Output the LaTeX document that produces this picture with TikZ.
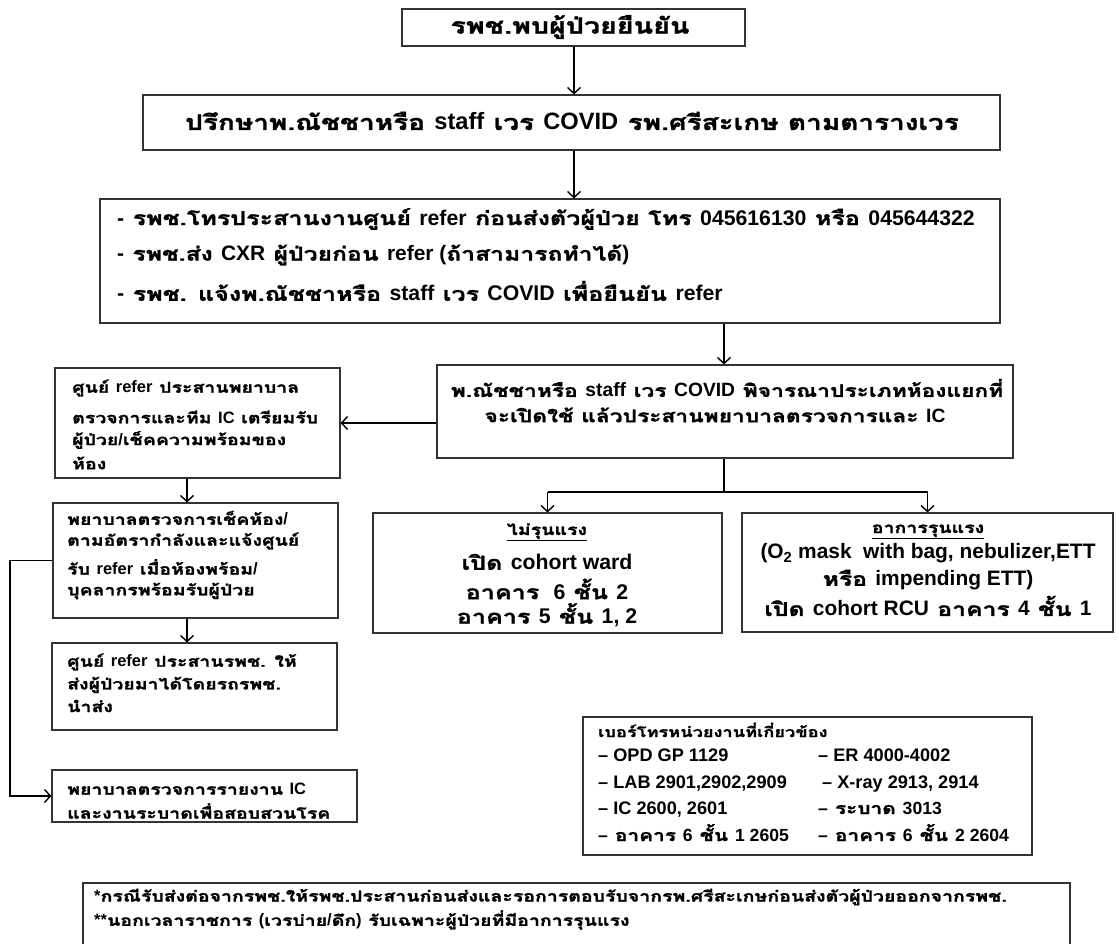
\documentclass[tikz,border=0pt]{standalone}
\usepackage{fontspec}
\setmainfont{Loma}[Script=Thai, FakeStretch=1.3, FakeBold=1.5]
\newfontfamily\latfont{Liberation Sans}[Scale=1.1]
\usetikzlibrary{arrows.meta,calc}

\tikzset{
  frame/.style={draw=black!80, line width=1.1pt, fill=white, inner sep=0pt},
  txt/.style={inner sep=0pt, font=\bfseries},
  link/.style={draw=black, line width=1.6pt, -{Straight Barb[length=6pt,width=13pt,line width=1.4pt]}},
  plain/.style={draw=black, line width=1.6pt}
}
\newcommand{\fs}[1]{\fontsize{#1}{#1}\selectfont}
% Latin runs are set in an Arial-width sans
\newcommand{\E}[1]{{\latfont #1}}
\newcommand{\dsh}{\E{\textendash}}

\begin{document}
\begin{tikzpicture}[x=1pt,y=-1pt]
\useasboundingbox (0,0) rectangle (1119,944);

% boxes (centres and sizes in picture units)
\node[frame, minimum width=343pt, minimum height=37pt] (b1) at (573.5,27.5) {};
\node[frame, minimum width=857pt, minimum height=55pt] (b2) at (571.5,122.5) {};
\node[frame, minimum width=900pt, minimum height=124pt] (b3) at (550,261) {};
\node[frame, minimum width=576pt, minimum height=93pt] (b4) at (725,411.5) {};
\node[frame, minimum width=349pt, minimum height=120pt] (b5) at (547.5,573) {};
\node[frame, minimum width=371pt, minimum height=119pt] (b6) at (927.5,572.5) {};
\node[frame, minimum width=285pt, minimum height=110pt] (l1) at (197.5,423) {};
\node[frame, minimum width=285pt, minimum height=115pt] (l2) at (195.5,560.5) {};
\node[frame, minimum width=285pt, minimum height=87pt] (l3) at (194.5,686.5) {};
\node[frame, minimum width=305pt, minimum height=52pt] (l4) at (204.5,796) {};
\node[frame, minimum width=449pt, minimum height=138pt] (tel) at (807.5,786) {};
\node[frame, minimum width=987pt, minimum height=80pt] (note) at (576.5,923) {};

% texts
\node[txt, font=\bfseries\fs{22}] (t1) at (570,27) {รพช.พบผู้ป่วยยืนยัน};
\node[txt, font=\bfseries\fs{21.5}] (t2) at (572,121) {ปรึกษาพ.ณัชชาหรือ \E{staff} เวร \E{COVID} รพ.ศรีสะเกษ ตามตารางเวร};
\node[txt, font=\bfseries\fs{19.3}, anchor=west] (t3a) at (117,219) {\E{-} รพช.โทรประสานงานศูนย์ \E{refer} ก่อนส่งตัวผู้ป่วย โทร \E{045616130} หรือ \E{045644322}};
\node[txt, font=\bfseries\fs{19}, anchor=west] (t3b) at (117,255) {\E{-} รพช.ส่ง \E{CXR} ผู้ป่วยก่อน \E{refer (}ถ้าสามารถทำได้\E{)}};
\node[txt, font=\bfseries\fs{19.3}, anchor=west] (t3c) at (117,291) {\E{-} รพช. แจ้งพ.ณัชชาหรือ \E{staff} เวร \E{COVID} เพื่อยืนยัน \E{refer}};
\node[txt, font=\bfseries\fs{17.5}] (t4a) at (727,388) {พ.ณัชชาหรือ \E{staff} เวร \E{COVID} พิจารณาประเภทห้องแยกที่};
\node[txt, font=\bfseries\fs{17.5}] (t4b) at (715,415) {จะเปิดใช้ แล้วประสานพยาบาลตรวจการและ \E{IC}};

\node[txt, font=\bfseries\fs{15}, anchor=base] (t5a) at (547,535) {\underline{ไม่รุนแรง}};
\node[txt, font=\bfseries\fs{19.3}] (t5b) at (547,562) {เปิด \E{cohort ward}};
\node[txt, font=\bfseries\fs{19.3}] (t5c) at (547,589) {อาคาร \E{~6} ชั้น \E{2}};
\node[txt, font=\bfseries\fs{19.3}] (t5d) at (547,615) {อาคาร \E{5} ชั้น \E{1, 2}};

\node[txt, font=\bfseries\fs{15}, anchor=base] (t6a) at (928,533) {\underline{อาการรุนแรง}};
\node[txt, font=\bfseries\fs{19}] (t6b) at (928,553) {\E{(O\textsubscript{2} mask~ with bag, nebulizer,ETT}};
\node[txt, font=\bfseries\fs{19}] (t6c) at (928,580) {หรือ \E{impending ETT)}};
\node[txt, font=\bfseries\fs{19}] (t6d) at (928,606) {เปิด \E{cohort RCU} อาคาร \E{4} ชั้น \E{1}};

\node[txt, font=\bfseries\fs{15}, anchor=west] (t7a) at (72,388) {ศูนย์ \E{refer} ประสานพยาบาล};
\node[txt, font=\bfseries\fs{15}, anchor=west] (t7b) at (72,417) {ตรวจการและทีม \E{IC} เตรียมรับ};
\node[txt, font=\bfseries\fs{15}, anchor=west] (t7c) at (72,440) {ผู้ป่วย\E{/}เช็คความพร้อมของ};
\node[txt, font=\bfseries\fs{15}, anchor=west] (t7d) at (72,463) {ห้อง};

\node[txt, font=\bfseries\fs{15}, anchor=west] (t8a) at (67,518) {พยาบาลตรวจการเช็คห้อง\E{/}};
\node[txt, font=\bfseries\fs{15}, anchor=west] (t8b) at (67,541) {ตามอัตรากำลังและแจ้งศูนย์};
\node[txt, font=\bfseries\fs{15}, anchor=west] (t8c) at (67,567) {รับ \E{refer} เมื่อห้องพร้อม\E{/}};
\node[txt, font=\bfseries\fs{15}, anchor=west] (t8d) at (67,591) {บุคลากรพร้อมรับผู้ป่วย};

\node[txt, font=\bfseries\fs{15}, anchor=west] (t9a) at (67,662) {ศูนย์ \E{refer} ประสานรพช. ให้};
\node[txt, font=\bfseries\fs{15}, anchor=west] (t9b) at (67,685) {ส่งผู้ป่วยมาได้โดยรถรพช.};
\node[txt, font=\bfseries\fs{15}, anchor=west] (t9c) at (67,706) {นำส่ง};

\node[txt, font=\bfseries\fs{15}, anchor=west] (t10a) at (67,789) {พยาบาลตรวจการรายงาน \E{IC}};
\node[txt, font=\bfseries\fs{15}, anchor=west] (t10b) at (67,811) {และงานระบาดเพื่อสอบสวนโรค};

% telephone list, set on baselines
\node[txt, font=\bfseries\fs{14}, anchor=base west] (p0) at (598,737) {เบอร์โทรหน่วยงานที่เกี่ยวข้อง};
\node[txt, font=\bfseries\fs{16.5}, anchor=base west] (p1) at (598,761) {\E{\textendash\ OPD GP 1129}};
\node[txt, font=\bfseries\fs{16.5}, anchor=base west] (p2) at (598,788) {\E{\textendash\ LAB 2901,2902,2909}};
\node[txt, font=\bfseries\fs{16.5}, anchor=base west] (p3) at (598,814) {\E{\textendash\ IC 2600, 2601}};
\node[txt, font=\bfseries\fs{16}, anchor=base west] (p4) at (598,841) {\dsh\ อาคาร \E{6} ชั้น \E{1 2605}};
\node[txt, font=\bfseries\fs{16.5}, anchor=base west] (q1) at (818,761) {\E{\textendash\ ER 4000-4002}};
\node[txt, font=\bfseries\fs{16.5}, anchor=base west] (q2) at (822,788) {\E{\textendash\ X-ray 2913, 2914}};
\node[txt, font=\bfseries\fs{16}, anchor=base west] (q3) at (818,814) {\dsh\ ระบาด \E{3013}};
\node[txt, font=\bfseries\fs{16}, anchor=base west] (q4) at (818,841) {\dsh\ อาคาร \E{6} ชั้น \E{2 2604}};

\node[txt, font=\bfseries\fs{15}, anchor=west] (n1) at (94,897) {\E{*}กรณีรับส่งต่อจากรพช.ให้รพช.ประสานก่อนส่งและรอการตอบรับจากรพ.ศรีสะเกษก่อนส่งตัวผู้ป่วยออกจากรพช.};
\node[txt, font=\bfseries\fs{15}, anchor=west] (n2) at (94,920) {\E{**}นอกเวลาราชการ \E{(}เวรบ่าย\E{/}ดึก\E{)} รับเฉพาะผู้ป่วยที่มีอาการรุนแรง};

% connector anchor points
\coordinate (c1) at (574,0);
\coordinate (c3) at (724,0);
\coordinate (cl) at (187,0);
\coordinate (hy) at (0,492);
\coordinate (lx) at (10,0);

% main spine
\draw[link] (b1.south -| c1) -- (b2.north -| c1);
\draw[link] (b2.south -| c1) -- (b3.north -| c1);
\draw[link] (b3.south -| c3) -- (b4.north -| c3);

% split below the room decision
\draw[plain] (b4.south -| c3) -- (hy -| c3);
\draw[plain] (hy -| b5.north) -- (hy -| b6.north);
\draw[link] (hy -| b5.north) -- (b5.north);
\draw[link] (hy -| b6.north) -- (b6.north);

% left column
\draw[link] (b4.west |- l1.east) -- (l1.east);
\draw[link] (l1.south -| cl) -- (l2.north -| cl);
\draw[link] (l2.south -| cl) -- (l3.north -| cl);
\draw[link] (l2.west) -- (l2.west -| lx) -- (l4.west -| lx) -- (l4.west);
\end{tikzpicture}
\end{document}
